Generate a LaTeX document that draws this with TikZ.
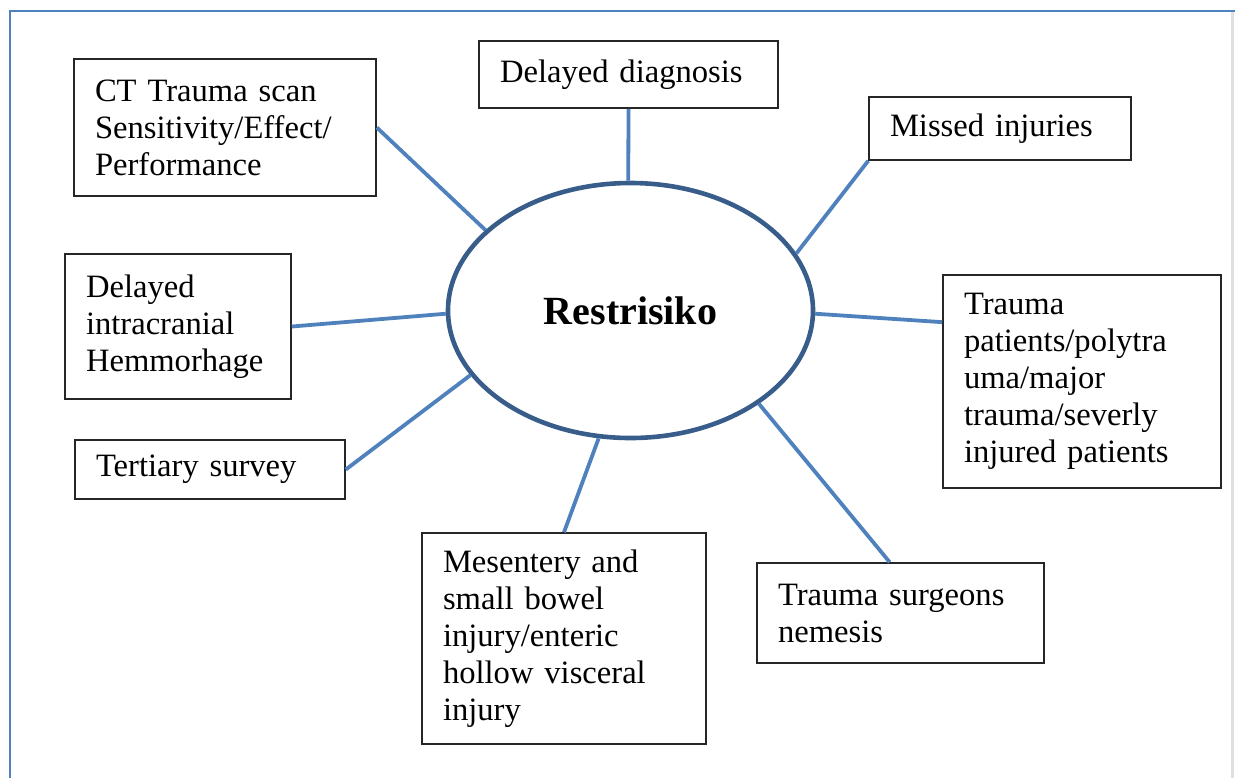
\documentclass[tikz,border=0pt]{standalone}
\usepackage{fontspec}
\setmainfont{Liberation Serif}
\usetikzlibrary{shapes}
\definecolor{linkblue}{RGB}{79,129,189}
\definecolor{ringblue}{RGB}{56,93,138}

\begin{document}
\begin{tikzpicture}[x=0.5pt, y=-0.5pt,
  box/.style={draw=black!85, line width=0.8pt, text width=#1, inner xsep=10.5pt,
    align=left, font=\fontsize{16.3}{18.5}\selectfont},
  link/.style={draw=linkblue, line width=1.9pt}]
\useasboundingbox (0,0) rectangle (1235,778);
\draw[linkblue, line width=1.2pt] (10,778) -- (10,11) -- (1235,11);
\draw[black!12, line width=1.5pt] (1232,12) -- (1232,778);
\node (r) at (630.5,310.5) [ellipse, draw=ringblue, line width=2.3pt, minimum width=182.5pt,
  minimum height=127.5pt, inner sep=0pt, font=\fontsize{20}{24}\selectfont\bfseries] {Restrisiko};
\node (ct) at (225,127.5)  [box=130pt, minimum height=68.5pt] {CT Trauma scan\\Sensitivity/Effect/\\Performance};
\node (dd) at (628.5,74.5) [box=128.5pt, minimum height=33.5pt] {Delayed diagnosis};
\node (mi) at (1000,128.5) [box=110pt, minimum height=31.5pt] {Missed injuries};
\node (di) at (178,326.5)  [box=92pt, minimum height=72.5pt] {Delayed\\intracranial\\Hemmorhage};
\node (tp) at (1082,381.5) [box=118pt, minimum height=106.5pt] {Trauma\\patients/polytra\\uma/major\\trauma/severly\\injured patients};
\node (te) at (210,469.5)  [box=114pt, minimum height=29.5pt] {Tertiary survey};
\node (me) at (564,638.5)  [box=121pt, minimum height=105.5pt] {Mesentery and\\small bowel\\injury/enteric\\hollow visceral\\injury};
\node (ts) at (900.5,613)  [box=122.5pt, minimum height=50pt] {Trauma surgeons\\nemesis};
\draw[link] (ct.east) -- (r.151);
\draw[link] (dd.south) -- (r.91);
\draw[link] (mi.south west) -- (r.19);
\draw[link] (di.east) -- (r.181);
\draw[link] (tp.157) -- (r.-1);
\draw[link] (te.east) -- (r.202);
\draw[link] (me.north) -- (r.256);
\draw[link] (ts.102) -- (r.324);
\end{tikzpicture}
\end{document}
